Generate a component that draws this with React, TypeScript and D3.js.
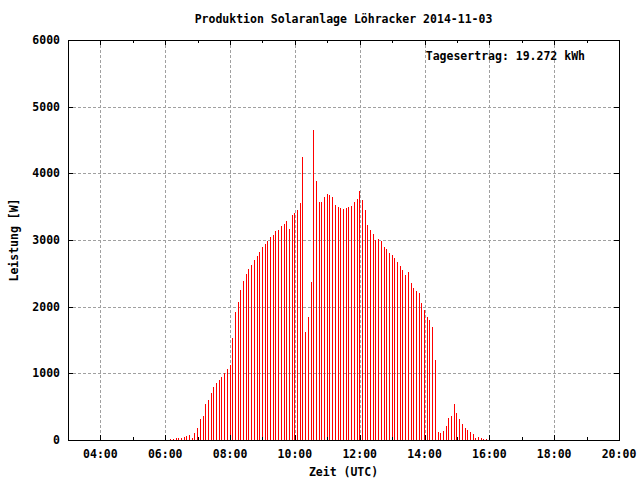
import React from "react";
import * as d3 from "d3";

const title = "Produktion Solaranlage Löhracker 2014-11-03";
const yieldText = "Tagesertrag: 19.272 kWh";
const xLabel = "Zeit (UTC)";
const yLabel = "Leistung [W]";

// samples every 5 minutes starting 06:05 (red series)
const redStart = "06:05";
const redPower = [
  0, 15, 15, 30, 30, 30, 45, 60, 75, 30, 105,
  180, 315, 360, 540, 600, 705, 795, 855, 900, 945, 1005, 1065,
  1125, 1530, 1920, 2070, 2250, 2385, 2490, 2565, 2625, 2700, 2760, 2820,
  2895, 2940, 2985, 3045, 3075, 3135, 3150, 3210, 3240, 3285, 3165, 3375,
  3405, 3450, 3555, 4245, 1620, 1845, 2370, 4650, 3885, 3570, 3570, 3645,
  3690, 3675, 3645, 3525, 3495, 3480, 3465, 3480, 3495, 3510, 3570, 3615,
  3735, 3600, 3450, 3225, 3150, 3090, 3000, 3015, 2985, 2895, 2865, 2805,
  2775, 2730, 2670, 2610, 2550, 2475, 2520, 2355, 2280, 2235, 2205, 2055,
  1950, 1845, 1800, 1695, 1200, 120, 105, 135, 210, 330, 360, 540,
  405, 315, 240, 180, 150, 120, 90, 30, 45, 30, 15, 15,
];
const blackTimes = ["06:00", "16:00"];
const blackPower = [60, 60];

const xTickLabels = ["04:00", "06:00", "08:00", "10:00", "12:00", "14:00", "16:00", "18:00", "20:00"];
const xMinorTicks = ["05:00", "07:00", "09:00", "11:00", "13:00", "15:00", "17:00", "19:00"];
const yTicks = [0, 1000, 2000, 3000, 4000, 5000, 6000];

const toHours = (s: string) => {
  const [h, m] = s.split(":").map(Number);
  return h + m / 60;
};

export default function App() {
  const W = 640, H = 480;
  const L = 68, R = 619, T = 40, B = 440;
  const x = d3.scaleLinear().domain([3, 20]).range([L, R]);
  const y = d3.scaleLinear().domain([0, 6000]).range([B, T]);
  const font = "'DejaVu Sans Mono', monospace";
  const fs = 11.5;
  const startH = toHours(redStart);
  const red = redPower.map((v, i) => ({ t: startH + (i * 5) / 60, v }));
  const black = blackTimes.map((t, i) => ({ t: toHours(t), v: blackPower[i] }));

  return (
    <svg width={W} height={H} style={{ position: "absolute", left: 0, top: 0, background: "#fff" }}>
      <rect x={0} y={0} width={W} height={H} fill="#fff" />
      {/* grid */}
      <g stroke="#a0a0a0" strokeWidth={1} strokeDasharray="3,2" shapeRendering="crispEdges">
        {xTickLabels.map((t) => (
          <line key={t} x1={Math.round(x(toHours(t))) + 0.5} x2={Math.round(x(toHours(t))) + 0.5} y1={T} y2={B} />
        ))}
        {yTicks.slice(1, -1).map((v) => (
          <line key={v} x1={L} x2={R} y1={Math.round(y(v)) + 0.5} y2={Math.round(y(v)) + 0.5} />
        ))}
      </g>
      {/* bars */}
      <g stroke="#ff0000" strokeWidth={1} shapeRendering="crispEdges">
        {red.filter((d) => d.v > 0).map((d, i) => (
          <line key={i} x1={x(d.t)} x2={x(d.t)} y1={y(0)} y2={y(d.v)} />
        ))}
      </g>
      <g stroke="#000" strokeWidth={1} shapeRendering="crispEdges">
        {black.map((d, i) => (
          <line key={i} x1={x(d.t)} x2={x(d.t)} y1={y(0)} y2={y(d.v)} />
        ))}
      </g>
      {/* ticks */}
      <g stroke="#000" strokeWidth={1} shapeRendering="crispEdges">
        {xTickLabels.map((t) => {
          const px = Math.round(x(toHours(t))) + 0.5;
          return (
            <g key={t}>
              <line x1={px} x2={px} y1={B} y2={B - 5} />
              <line x1={px} x2={px} y1={T} y2={T + 5} />
            </g>
          );
        })}
        {xMinorTicks.map((t) => {
          const px = Math.round(x(toHours(t))) + 0.5;
          return (
            <g key={t}>
              <line x1={px} x2={px} y1={B} y2={B - 3} />
              <line x1={px} x2={px} y1={T} y2={T + 3} />
            </g>
          );
        })}
        {yTicks.map((v) => {
          const py = Math.round(y(v)) + 0.5;
          return (
            <g key={v}>
              <line x1={L} x2={L + 5} y1={py} y2={py} />
              <line x1={R} x2={R - 5} y1={py} y2={py} />
            </g>
          );
        })}
      </g>
      {/* border */}
      <rect x={L + 0.5} y={T + 0.5} width={R - L} height={B - T} fill="none" stroke="#000" strokeWidth={1} />
      {/* labels */}
      <g fontFamily={font} fontSize={fs} fontWeight="bold" fill="#000">
        {xTickLabels.map((t) => (
          <text key={t} x={x(toHours(t))} y={458} textAnchor="middle">{t}</text>
        ))}
        {yTicks.map((v) => (
          <text key={v} x={60} y={y(v) + 4} textAnchor="end">{v}</text>
        ))}
        <text x={(L + R) / 2} y={23} textAnchor="middle">{title}</text>
        <text x={(L + R) / 2} y={476} textAnchor="middle">{xLabel}</text>
        <text transform={`translate(18,${(T + B) / 2}) rotate(-90)`} textAnchor="middle">{yLabel}</text>
        <text x={585} y={60} textAnchor="end">{yieldText}</text>
      </g>
    </svg>
  );
}
